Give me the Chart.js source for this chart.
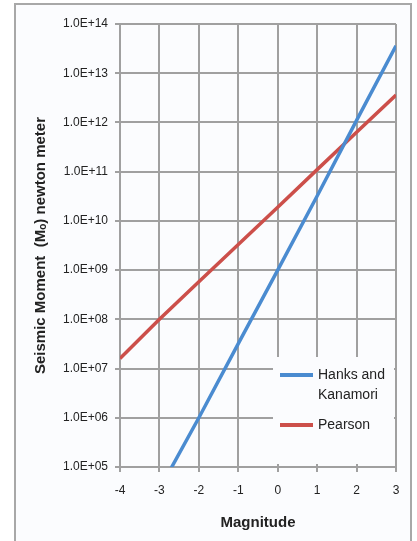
<!DOCTYPE html>
<html>
<head>
<meta charset="utf-8">
<title>Seismic moment vs magnitude</title>
<script src="https://cdn.jsdelivr.net/npm/chart.js@4.4.0/dist/chart.umd.min.js"></script>
<style>
    html, body { margin: 0; padding: 0; background: #fff; overflow: hidden; }
    #wrap { position: relative; width: 417px; height: 541px; }
    #frame { position: absolute; left: 14px; top: 3px; width: 394px; height: 560px; border: 2px solid #a8a8a8; background: #fbfcfe; }
    #chart { position: absolute; left: 0; top: 0; }
</style>
</head>
<body>
<div id="wrap">
    <div id="frame"></div>
    <canvas id="chart" width="417" height="541"></canvas>
</div>
<script>
// data
var magnitudes = [-4, -3, -2, -1, 0, 1, 2, 3];
var hanksKanamori = [null, 3.5e4, 1.0e6, 3.2e7, 1.0e9, 3.2e10, 1.1e12, 3.6e13];
var pearson = [1.6e7, 1.0e8, 5.8e8, 3.3e9, 1.9e10, 1.1e11, 6.3e11, 3.6e12];

var yTicks = [1e5, 1e6, 1e7, 1e8, 1e9, 1e10, 1e11, 1e12, 1e13, 1e14];
var yTickLabels = ['1.0E+05', '1.0E+06', '1.0E+07', '1.0E+08', '1.0E+09',
    '1.0E+10', '1.0E+11', '1.0E+12', '1.0E+13', '1.0E+14'];

var seriesNames = [['Hanks and', 'Kanamori'], ['Pearson']];
var seriesColors = ['#4a8bd0', '#cc4f4a'];

var fontFamily = "'Liberation Sans', Arial, sans-serif";
var gridColor = '#a0a0a0';

function toPoints(values) {
    return magnitudes.map(function(m, i) {
        return { x: m, y: values[i] };
    });
}

// white legend box sitting in the lower right corner of the plot
var legendBox = {
    id: 'legendBox',
    afterDatasetsDraw: function(chart) {
        var ctx = chart.ctx;
        var area = chart.chartArea;
        var left = area.right - 123;
        var top = area.bottom - 110;
        ctx.save();
        ctx.fillStyle = '#fbfcfe';
        ctx.fillRect(left, top, 121, 107);

        var rows = [18, 68];
        ctx.font = '14px ' + fontFamily;
        ctx.textBaseline = 'middle';
        ctx.textAlign = 'left';
        seriesNames.forEach(function(lines, i) {
            var y = top + rows[i];
            ctx.strokeStyle = seriesColors[i];
            ctx.lineWidth = 4;
            ctx.beginPath();
            ctx.moveTo(left + 7, y);
            ctx.lineTo(left + 40, y);
            ctx.stroke();
            ctx.fillStyle = '#222';
            lines.forEach(function(t, j) {
                ctx.fillText(t, left + 45, y + j * 20);
            });
        });
        ctx.restore();
    }
};

var ctx = document.getElementById('chart').getContext('2d');
new Chart(ctx, {
    type: 'line',
    data: {
        datasets: [{
            label: 'Hanks and Kanamori',
            data: toPoints(hanksKanamori),
            borderColor: seriesColors[0],
            borderWidth: 3.5,
            pointRadius: 0,
            clip: 0
        }, {
            label: 'Pearson',
            data: toPoints(pearson),
            borderColor: seriesColors[1],
            borderWidth: 3.5,
            pointRadius: 0,
            clip: 0
        }]
    },
    options: {
        responsive: false,
        animation: false,
        layout: {
            padding: { left: 20, right: 21, top: 24, bottom: 0 }
        },
        plugins: {
            legend: { display: false },
            tooltip: { enabled: false }
        },
        scales: {
            x: {
                type: 'linear',
                min: -4,
                max: 3,
                afterFit: function(scale) { scale.height = 74; },
                ticks: {
                    stepSize: 1,
                    padding: 11,
                    color: '#222',
                    font: { family: fontFamily, size: 12 }
                },
                grid: { color: gridColor, lineWidth: 2, tickLength: 5 },
                border: { color: gridColor, width: 2 },
                title: {
                    display: true,
                    text: 'Magnitude',
                    color: '#222',
                    font: { family: fontFamily, size: 15, weight: 'bold' },
                    padding: { top: 0, bottom: 9 }
                }
            },
            y: {
                type: 'logarithmic',
                min: 1e5,
                max: 1e14,
                afterFit: function(scale) { scale.width = 100; },
                afterBuildTicks: function(scale) {
                    scale.ticks = yTicks.map(function(v) { return { value: v }; });
                },
                ticks: {
                    padding: 7,
                    color: '#222',
                    font: { family: fontFamily, size: 12 },
                    callback: function(v, i) { return yTickLabels[i]; }
                },
                grid: { color: gridColor, lineWidth: 2, tickLength: 5 },
                border: { color: gridColor, width: 2 },
                title: {
                    display: true,
                    text: 'Seismic Moment  (M\u2092) newton meter',
                    color: '#222',
                    font: { family: fontFamily, size: 15, weight: 'bold' },
                    padding: { top: 12, bottom: 0 }
                }
            }
        }
    },
    plugins: [legendBox]
});
</script>
</body>
</html>
